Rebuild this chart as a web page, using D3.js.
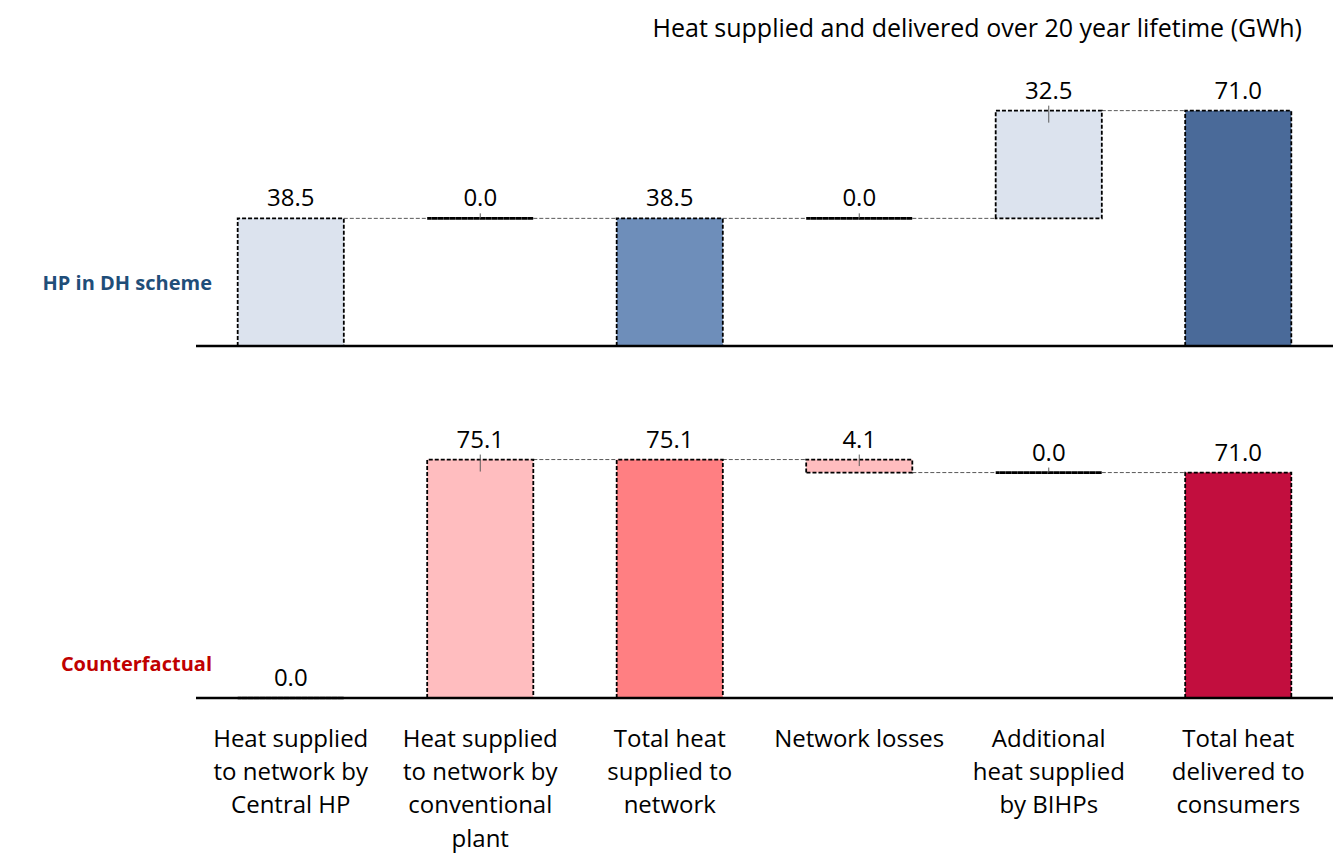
<!DOCTYPE html>
<html>
<head>
<meta charset="utf-8">
<script src="https://cdn.jsdelivr.net/npm/d3@7"></script>
<style>
  html, body { margin: 0; padding: 0; background: #fff; }
  svg { display: block; font-family: "Open Sans", Lato, sans-serif; }
</style>
</head>
<body>
<svg id="chart" width="1333" height="854"></svg>
<script>
// ---- Data ----
const categories = [
  ["Heat supplied", "to network by", "Central HP"],
  ["Heat supplied", "to network by", "conventional", "plant"],
  ["Total heat", "supplied to", "network"],
  ["Network losses"],
  ["Additional", "heat supplied", "by BIHPs"],
  ["Total heat", "delivered to", "consumers"]
];
const isTotal = [false, false, true, false, false, true];
const hpValues = [38.5, 0.0, 38.5, 0.0, 32.5, 71.0];
const cfValues = [0.0, 75.1, 75.1, -4.1, 0.0, 71.0];
const hpColors = ["#DCE3EE", "#DCE3EE", "#6E8EBA", "#DCE3EE", "#DCE3EE", "#4A6A99"];
const cfColors = ["#FFBDBF", "#FFBDBF", "#FF7F82", "#FFBDBF", "#FFBDBF", "#C20E3E"];
const panelNames = ["HP in DH scheme", "Counterfactual"];
const panelNameColors = ["#1F4E79", "#C00000"];
const title = "Heat supplied and delivered over 20 year lifetime (GWh)";

// ---- Layout ----
const svg = d3.select("#chart");
const x = d3.scaleBand()
  .domain(d3.range(categories.length))
  .range([196, 1333])
  .paddingInner(0.44)
  .paddingOuter(0.22);
const bw = x.bandwidth();

const panels = [
  { values: hpValues, colors: hpColors, y: d3.scaleLinear().domain([0, 80]).range([346, 346 - 3.315 * 80]),
    name: panelNames[0], nameColor: panelNameColors[0], nameY: 290 },
  { values: cfValues, colors: cfColors, y: d3.scaleLinear().domain([0, 80]).range([698, 698 - 3.175 * 80]),
    name: panelNames[1], nameColor: panelNameColors[1], nameY: 671 }
];

function steps(values) {
  let cum = 0;
  return values.map((v, i) => {
    let y0, y1;
    if (isTotal[i]) { y0 = 0; y1 = v; cum = v; }
    else { y0 = cum; y1 = cum + v; cum = y1; }
    return { i, v, lo: Math.min(y0, y1), hi: Math.max(y0, y1), end: cum };
  });
}

panels.forEach(p => {
  const g = svg.append("g");
  const y = p.y;
  const st = steps(p.values);

  // connectors
  g.selectAll("line.conn").data(st.slice(0, -1)).join("line")
    .attr("x1", d => x(d.i) + bw)
    .attr("x2", d => x(d.i + 1))
    .attr("y1", d => y(d.end))
    .attr("y2", d => y(d.end))
    .attr("stroke", "#595959")
    .attr("stroke-width", 1)
    .attr("stroke-dasharray", "4 2");

  // bars (paths so zero-height bars still show their dashed outline)
  g.selectAll("path.bar").data(st).join("path")
    .attr("d", d => {
      const x0 = x(d.i), x1 = x(d.i) + bw, yt = y(d.hi), yb = y(d.lo);
      return `M${x0},${yb}V${yt}H${x1}V${yb}Z`;
    })
    .attr("fill", d => p.colors[d.i])
    .attr("stroke", "#000")
    .attr("stroke-width", d => d.v === 0 ? 2.6 : 1.8)
    .attr("stroke-dasharray", "4 2");

  // small leader ticks
  g.selectAll("line.tick").data(st.filter(d => !isTotal[d.i] && d.i > 0)).join("line")
    .attr("x1", d => x(d.i) + bw / 2)
    .attr("x2", d => x(d.i) + bw / 2)
    .attr("y1", d => y(d.hi) - 5)
    .attr("y2", d => y(d.hi) + Math.min(12, (y(d.lo) - y(d.hi)) / 2))
    .attr("stroke", "#595959")
    .attr("stroke-width", 1);

  // value labels
  g.selectAll("text.val").data(st).join("text")
    .attr("x", d => x(d.i) + bw / 2)
    .attr("y", d => y(d.hi) - 12)
    .attr("text-anchor", "middle")
    .attr("font-size", 24)
    .attr("fill", "#000")
    .text(d => Math.abs(d.v).toFixed(1));

  // baseline axis
  const axis = d3.axisBottom(x).tickSize(0).tickFormat("");
  const ag = g.append("g").attr("transform", `translate(0,${y(0)})`).call(axis);
  ag.select(".domain").attr("stroke", "#000").attr("stroke-width", 2.4).attr("d", `M196,0H1333`);

  // panel name
  svg.append("text")
    .attr("x", 212).attr("y", p.nameY)
    .attr("text-anchor", "end")
    .attr("font-size", 20)
    .attr("font-weight", "bold")
    .attr("fill", p.nameColor)
    .text(p.name);
});

// category labels
const cg = svg.append("g");
categories.forEach((lines, i) => {
  const t = cg.append("text")
    .attr("text-anchor", "middle")
    .attr("font-size", 24)
    .attr("fill", "#000");
  lines.forEach((ln, k) => {
    t.append("tspan")
      .attr("x", x(i) + bw / 2)
      .attr("y", 747 + k * 33.2)
      .text(ln);
  });
});

// title
svg.append("text")
  .attr("x", 1302).attr("y", 37)
  .attr("text-anchor", "end")
  .attr("font-size", 25)
  .attr("fill", "#000")
  .text(title);
</script>
</body>
</html>
